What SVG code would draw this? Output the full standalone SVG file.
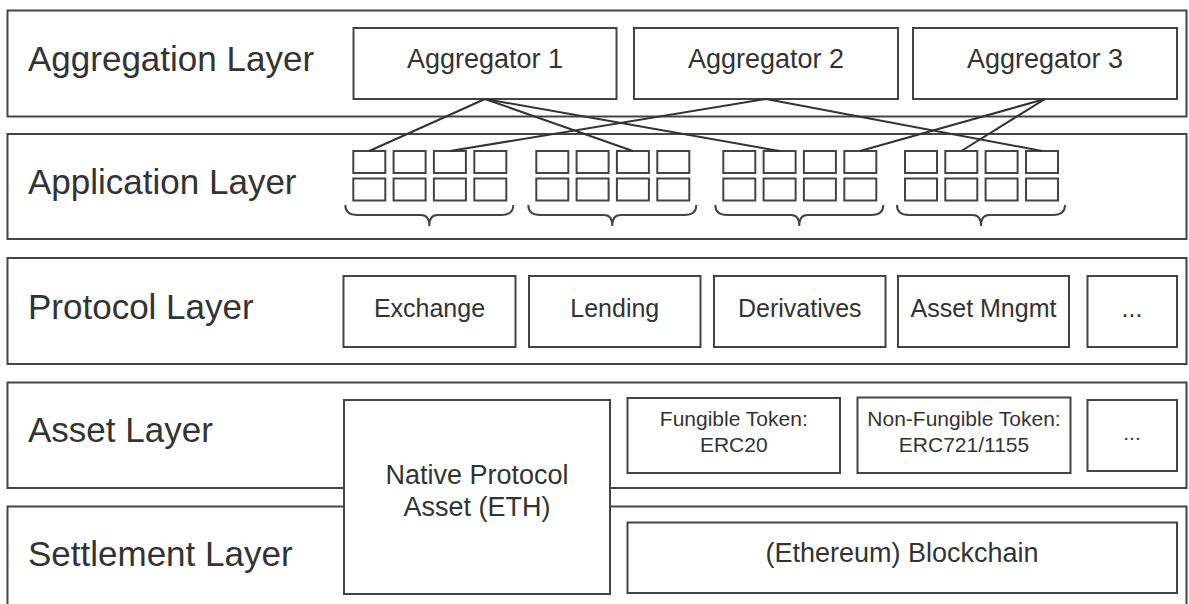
<svg xmlns="http://www.w3.org/2000/svg" xmlns:xlink="http://www.w3.org/1999/xlink" width="1189" height="604" viewBox="0 0 1189 604">
<style>
.layer{fill:#fff;stroke:#444;stroke-width:2}
.box{fill:#fff;stroke:#444;stroke-width:2}
.sb{fill:#fff;stroke:#444;stroke-width:2}
.brace{fill:none;stroke:#444;stroke-width:2}
.conn{fill:none;stroke:#333;stroke-width:2}
text{font-family:"Liberation Sans",Arial,sans-serif;fill:#333}
.lbl{font-size:35px}
.t27{font-size:27px;text-anchor:middle}
.t25{font-size:25px;text-anchor:middle}
.t21{font-size:21px;text-anchor:middle}
</style>
<defs>
<g id="appgroup">
<rect class="sb" x="0" y="151" width="32" height="22"/>
<rect class="sb" x="40.3" y="151" width="32" height="22"/>
<rect class="sb" x="80.6" y="151" width="32" height="22"/>
<rect class="sb" x="121" y="151" width="32" height="22"/>
<rect class="sb" x="0" y="178.5" width="32" height="22"/>
<rect class="sb" x="40.3" y="178.5" width="32" height="22"/>
<rect class="sb" x="80.6" y="178.5" width="32" height="22"/>
<rect class="sb" x="121" y="178.5" width="32" height="22"/>
<path class="brace" d="M -8 205 Q -8 215 4 215 H 68 Q 76 215 76 226 Q 76 215 84 215 H 148 Q 160 215 160 205"/>
</g>
</defs>

<g id="layer-aggregation">
<rect class="layer" x="7.5" y="10.5" width="1179" height="106"/>
<text class="lbl" x="28" y="71">Aggregation Layer</text>
</g>
<g id="layer-application">
<rect class="layer" x="7.5" y="134" width="1179" height="105"/>
<text class="lbl" x="28" y="194">Application Layer</text>
</g>
<g id="layer-protocol">
<rect class="layer" x="7.5" y="258" width="1179" height="106"/>
<text class="lbl" x="28" y="319">Protocol Layer</text>
</g>
<g id="layer-asset">
<rect class="layer" x="7.5" y="382.5" width="1179" height="105.5"/>
<text class="lbl" x="28" y="442">Asset Layer</text>
</g>
<g id="layer-settlement">
<rect class="layer" x="7.5" y="506.5" width="1179" height="110"/>
<text class="lbl" x="28" y="566">Settlement Layer</text>
</g>

<g id="aggregator-1">
<rect class="box" x="353.5" y="28" width="263" height="71"/>
<text class="t27" x="485" y="68">Aggregator 1</text>
</g>
<g id="aggregator-2">
<rect class="box" x="634" y="28" width="264" height="71"/>
<text class="t27" x="766" y="68">Aggregator 2</text>
</g>
<g id="aggregator-3">
<rect class="box" x="913" y="28" width="264" height="71"/>
<text class="t27" x="1045" y="68">Aggregator 3</text>
</g>

<g id="apps-1"><use xlink:href="#appgroup" href="#appgroup" transform="translate(353.3,0)"/></g>
<g id="apps-2"><use xlink:href="#appgroup" href="#appgroup" transform="translate(536.3,0)"/></g>
<g id="apps-3"><use xlink:href="#appgroup" href="#appgroup" transform="translate(723.3,0)"/></g>
<g id="apps-4"><use xlink:href="#appgroup" href="#appgroup" transform="translate(905,0)"/></g>

<g id="exchange">
<rect class="box" x="343.5" y="276" width="172" height="71"/>
<text class="t25" x="429.5" y="316.5">Exchange</text>
</g>
<g id="lending">
<rect class="box" x="529" y="276" width="171.5" height="71"/>
<text class="t25" x="614.8" y="316.5">Lending</text>
</g>
<g id="derivatives">
<rect class="box" x="714" y="276" width="171.5" height="71"/>
<text class="t25" x="799.8" y="316.5">Derivatives</text>
</g>
<g id="asset-mngmt">
<rect class="box" x="898" y="276" width="171" height="71"/>
<text class="t25" x="983.5" y="316.5">Asset Mngmt</text>
</g>
<g id="protocol-more">
<rect class="box" x="1087.5" y="276" width="89.5" height="71"/>
<text class="t25" x="1132" y="316.5">...</text>
</g>

<g id="native-asset">
<rect class="box" x="344" y="400" width="266" height="194"/>
<text class="t27" x="477" y="484">Native Protocol</text>
<text class="t27" x="477" y="516">Asset (ETH)</text>
</g>
<g id="fungible-token">
<rect class="box" x="627.5" y="398" width="212.5" height="75"/>
<text class="t21" x="733.8" y="426">Fungible Token:</text>
<text class="t21" x="733.8" y="451.5">ERC20</text>
</g>
<g id="nft">
<rect class="box" x="857.5" y="397.5" width="213" height="75.5"/>
<text class="t21" x="964" y="426">Non-Fungible Token:</text>
<text class="t21" x="964" y="451.5">ERC721/1155</text>
</g>
<g id="asset-more">
<rect class="box" x="1087.5" y="400" width="89.5" height="71"/>
<text class="t21" x="1132" y="440">...</text>
</g>
<g id="blockchain">
<rect class="box" x="627.5" y="522.5" width="549.5" height="70.5"/>
<text class="t27" x="902" y="562">(Ethereum) Blockchain</text>
</g>

<g id="connectors">
<line class="conn" x1="485" y1="99" x2="369.3" y2="151"/>
<line class="conn" x1="485" y1="99" x2="632.9" y2="151"/>
<line class="conn" x1="485" y1="99" x2="779.6" y2="151"/>
<line class="conn" x1="766" y1="99" x2="449.9" y2="151"/>
<line class="conn" x1="766" y1="99" x2="1042" y2="151"/>
<line class="conn" x1="1045" y1="99" x2="860" y2="151"/>
<line class="conn" x1="1045" y1="99" x2="961.3" y2="151"/>
</g>
</svg>
